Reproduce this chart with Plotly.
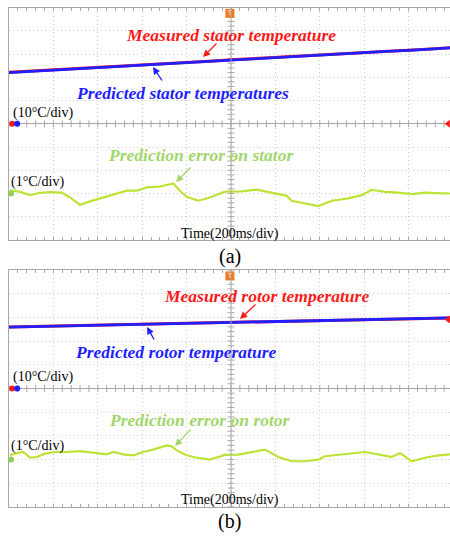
import numpy as np
import plotly.graph_objects as go

# ---------------- data ----------------
# time base in ms (200 ms/div)
t_temp = [0, 100, 200, 300, 400, 500, 600, 700, 800, 900, 1000,
          1100, 1200, 1300, 1400, 1500, 1600, 1700, 1800, 1900, 2000]

# panel (a): stator temperature, degC (10 degC/div)
stator_measured = [22.1, 22.6, 23.2, 23.6, 24.3, 24.8, 25.2, 25.9, 26.4, 26.9, 27.5,
                   28.0, 28.4, 29.1, 29.6, 30.0, 30.7, 31.2, 31.7, 32.2, 32.8]
stator_predicted = [22.0, 22.6, 23.1, 23.6, 24.2, 24.7, 25.2, 25.8, 26.3, 26.9, 27.4,
                    27.9, 28.4, 29.0, 29.5, 30.0, 30.6, 31.1, 31.6, 32.1, 32.7]

# panel (a): stator prediction error, degC (1 degC/div)
t_err_a = [5, 50, 95, 140, 185, 237, 275, 320, 365, 410, 468, 530, 575, 620, 680,
           740, 770, 800, 853, 905, 973, 1048, 1116, 1183, 1251, 1273, 1333, 1393,
           1454, 1528, 1589, 1634, 1694, 1754, 1814, 1874, 1919, 1986]
err_stator = [0.15, 0.07, -0.07, 0.03, 0.06, 0.04, -0.17, -0.49, -0.34, -0.21, -0.03,
              0.12, 0.12, 0.26, 0.30, 0.43, 0.12, -0.14, -0.31, -0.17, 0.08, 0.09,
              0.17, 0.03, -0.10, -0.31, -0.43, -0.54, -0.31, -0.21, -0.07, 0.16, 0.07,
              0.04, -0.03, 0.04, 0.02, 0.00]

# panel (b): rotor temperature, degC (10 degC/div)
rotor_measured = [26.0, 26.2, 26.4, 26.6, 26.8, 26.9, 27.2, 27.3, 27.5, 27.7, 27.9,
                  28.1, 28.3, 28.5, 28.7, 28.8, 29.1, 29.2, 29.4, 29.6, 29.8]
rotor_predicted = [25.9, 26.1, 26.4, 26.5, 26.7, 26.9, 27.1, 27.3, 27.5, 27.7, 27.9,
                   28.0, 28.3, 28.4, 28.6, 28.8, 29.0, 29.2, 29.4, 29.6, 29.8]

# panel (b): rotor prediction error, degC (1 degC/div)
t_err_b = [5, 27, 64, 95, 125, 162, 207, 260, 320, 380, 440, 470, 515, 560, 605, 650,
           710, 733, 755, 800, 845, 905, 973, 1033, 1093, 1153, 1213, 1273, 1333, 1393,
           1423, 1483, 1543, 1604, 1663, 1724, 1761, 1814, 1874, 1934, 1986]
err_rotor = [0.18, 0.25, 0.32, 0.08, 0.11, 0.25, 0.32, 0.32, 0.36, 0.28, 0.22, 0.32,
             0.22, 0.18, 0.32, 0.42, 0.60, 0.56, 0.39, 0.18, 0.08, 0.00, 0.20, 0.21,
             0.32, 0.42, 0.11, -0.07, -0.07, 0.00, 0.14, 0.21, 0.28, 0.32, 0.22, 0.11,
             0.28, -0.07, 0.08, 0.18, 0.22]

# ---------------- style ----------------
W, H = 450, 536
RED = "#ff1a1a"
BLUE = "#1f1fff"
GREEN_LINE = "#bde336"
GREEN_TXT = "#a2d66c"
GRID = "#c8c8c8"
FRAME = "#a8a8a8"
SERIF = "Liberation Serif, Times New Roman, serif"
X_MAX = 2000 * 441 / 444


def px(x):
    return x / W


def py(y):
    return 1 - y / H


fig = go.Figure()

panels = [
    dict(xa="x", ya="y", ya2="y2", meas=stator_measured, pred=stator_predicted,
         te=t_err_a, err=err_stator, trig=0.0),
    dict(xa="x2", ya="y3", ya2="y4", meas=rotor_measured, pred=rotor_predicted,
         te=t_err_b, err=err_rotor, trig=29.1),
]

minor_x = np.arange(0, 2001, 40)
minor_y = np.arange(-50, 51, 2)

for p in panels:
    # center-line minor ticks
    fig.add_trace(go.Scatter(x=minor_x, y=[0] * len(minor_x), xaxis=p["xa"], yaxis=p["ya"],
                             mode="markers", hoverinfo="skip", showlegend=False,
                             marker=dict(symbol="line-ns", size=5,
                                         line=dict(color=FRAME, width=1))))
    fig.add_trace(go.Scatter(x=[1000] * len(minor_y), y=minor_y, xaxis=p["xa"], yaxis=p["ya"],
                             mode="markers", hoverinfo="skip", showlegend=False,
                             marker=dict(symbol="line-ew", size=5,
                                         line=dict(color=FRAME, width=1))))
    # temperature traces
    fig.add_trace(go.Scatter(x=t_temp, y=p["meas"], xaxis=p["xa"], yaxis=p["ya"],
                             mode="lines", line=dict(color=RED, width=3),
                             showlegend=False))
    fig.add_trace(go.Scatter(x=t_temp, y=p["pred"], xaxis=p["xa"], yaxis=p["ya"],
                             mode="lines", line=dict(color=BLUE, width=2.8),
                             showlegend=False))
    # error trace
    fig.add_trace(go.Scatter(x=p["te"], y=p["err"], xaxis=p["xa"], yaxis=p["ya2"],
                             mode="lines", line=dict(color=GREEN_LINE, width=2.2),
                             showlegend=False))
    # channel ground markers
    fig.add_trace(go.Scatter(x=[14, 37], y=[0, 0], xaxis=p["xa"], yaxis=p["ya"],
                             mode="markers", cliponaxis=False, showlegend=False,
                             marker=dict(color=[RED, BLUE], size=6)))
    fig.add_trace(go.Scatter(x=[9], y=[0], xaxis=p["xa"], yaxis=p["ya2"],
                             mode="markers", cliponaxis=False, showlegend=False,
                             marker=dict(color="#8fd14f", size=6)))
    # trigger level marker (right) and trigger position marker (top)
    fig.add_trace(go.Scatter(x=[1978], y=[p["trig"]], xaxis=p["xa"], yaxis=p["ya"],
                             mode="markers", cliponaxis=False, showlegend=False,
                             marker=dict(color=RED, size=7, symbol="triangle-left")))
    fig.add_trace(go.Scatter(x=[995], y=[47.5], xaxis=p["xa"], yaxis=p["ya"],
                             mode="markers+text", cliponaxis=False, showlegend=False,
                             text=["T"], textposition="middle center",
                             textfont=dict(color="white", size=7, family="Arial"),
                             marker=dict(color="#f07a1e", size=9, symbol="square")))
    # center vertical line
    fig.add_shape(type="line", xref=p["xa"], yref=p["ya"] + " domain",
                  x0=1000, x1=1000, y0=0, y1=1, line=dict(color=FRAME, width=1))

xcommon = dict(range=[0, X_MAX], domain=[px(9), 1], dtick=200, showgrid=True,
               gridcolor=GRID, griddash="1px,3px", gridwidth=1, zeroline=False,
               showline=True, linecolor=FRAME, linewidth=1, mirror="allticks",
               ticks="inside", ticklen=3, tickcolor=FRAME, showticklabels=False,
               minor=dict(ticks="inside", dtick=40, ticklen=2, tickcolor=FRAME))
ycommon = dict(range=[-50, 50], dtick=10, showgrid=True, gridcolor=GRID,
               griddash="1px,3px", gridwidth=1, zeroline=True, zerolinecolor=FRAME,
               zerolinewidth=1, showline=True, linecolor=FRAME, linewidth=1,
               ticks="", showticklabels=False)
yerr = dict(range=[-2, 8], visible=False, showgrid=False, zeroline=False)

fig.update_layout(
    width=W, height=H, autosize=False,
    margin=dict(l=0, r=0, t=0, b=0, pad=0),
    paper_bgcolor="white", plot_bgcolor="white",
    xaxis=dict(xcommon, anchor="y"),
    xaxis2=dict(xcommon, anchor="y3"),
    yaxis=dict(ycommon, domain=[py(240), py(7.5)], anchor="x"),
    yaxis2=dict(yerr, overlaying="y", anchor="x"),
    yaxis3=dict(ycommon, domain=[py(507), py(270)], anchor="x2"),
    yaxis4=dict(yerr, overlaying="y3", anchor="x2"),
)


def label(text, x, y, color="black", size=14, bold_italic=False):
    if bold_italic:
        text = "<b><i>" + text + "</i></b>"
    fig.add_annotation(text=text, x=px(x), y=py(y), xref="paper", yref="paper",
                       xanchor="center", yanchor="middle", showarrow=False,
                       font=dict(family=SERIF, size=size, color=color))


def arrow(hx, hy, ax, ay, color):
    fig.add_annotation(text="", x=px(hx), y=py(hy), xref="paper", yref="paper",
                       ax=ax, ay=ay, showarrow=True, arrowhead=2, arrowsize=1.1,
                       arrowwidth=1.3, arrowcolor=color)


BIG = 17.5
# panel (a)
label("Measured stator temperature", 231, 35, RED, BIG, True)
label("Predicted stator temperatures", 182, 93, BLUE, BIG, True)
label("(10°C/div)", 43, 113, "black", 14)
label("(1°C/div)", 37, 182, "black", 14)
label("Prediction error on stator", 200, 155, GREEN_TXT, BIG, True)
label("Time(200ms/div)", 229.5, 234, "black", 14)
label("(a)", 230, 256, "black", 20)
arrow(203, 57, 15, -15, RED)
arrow(153, 67, 10, 15, BLUE)
arrow(176, 182, 16, -16, GREEN_TXT)

# panel (b)
label("Measured rotor temperature", 266.5, 296, RED, BIG, True)
label("Predicted rotor temperature", 175, 352, BLUE, BIG, True)
label("(10°C/div)", 43, 377, "black", 14)
label("(1°C/div)", 37, 446, "black", 14)
label("Prediction error on rotor", 199, 420, GREEN_TXT, BIG, True)
label("Time(200ms/div)", 229.5, 500, "black", 14)
label("(b)", 230, 521, "black", 20)
arrow(240, 319, 17, -16, RED)
arrow(147, 327, 8, 14, BLUE)
arrow(175, 446, 17, -18, GREEN_TXT)

fig.write_html("out.html", config={"displayModeBar": False},
               post_script="document.body.style.margin='0';"
                           "document.body.style.overflow='hidden';")
